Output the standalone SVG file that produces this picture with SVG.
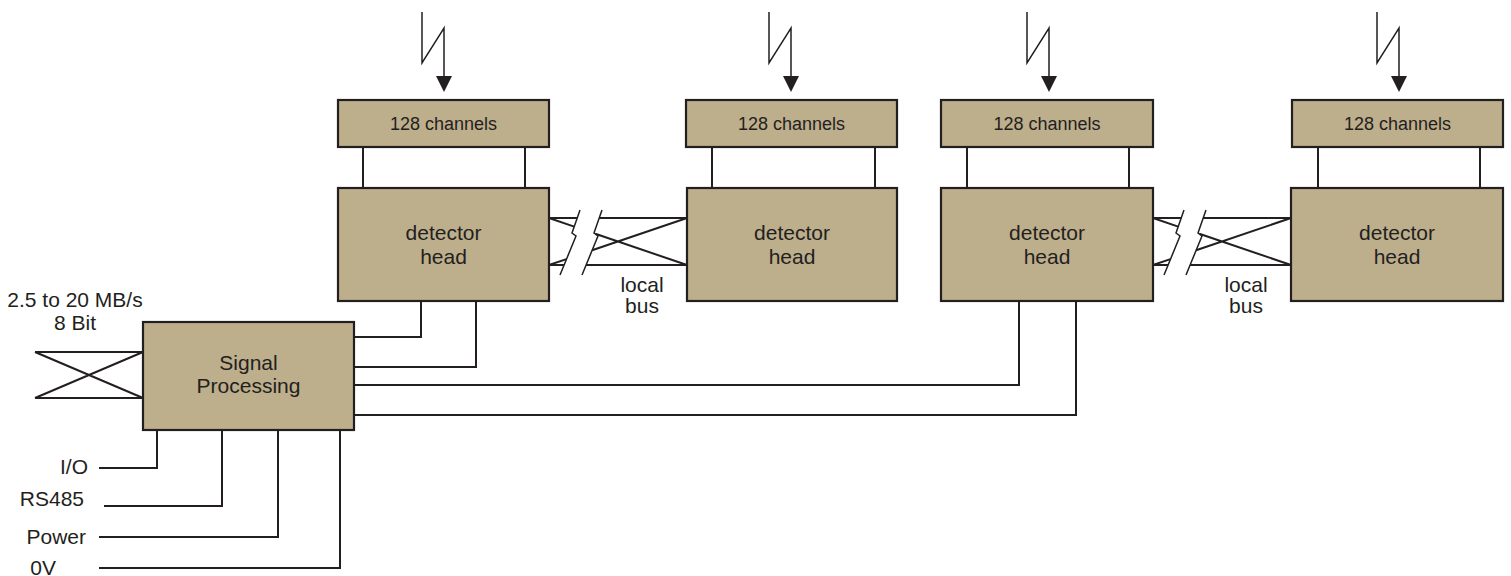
<svg xmlns="http://www.w3.org/2000/svg" xmlns:xlink="http://www.w3.org/1999/xlink" width="1511" height="576" viewBox="0 0 1511 576">
<style>
.box{fill:#bdae8c;stroke:#231f20;stroke-width:2.2}
.ln{fill:none;stroke:#231f20;stroke-width:2}
.thin{fill:none;stroke:#231f20;stroke-width:1.5}
.head{fill:#231f20;stroke:none}
text{font-family:"Liberation Sans",Arial,sans-serif;fill:#231f20;font-size:21px}
.c{text-anchor:middle}
.e{text-anchor:end}
.sm{font-size:18px}
</style>
<defs>
<g id="bolt"><path class="thin" d="M0,0 V51 L22,16 V66"/><polygon class="head" points="14,64 30,64 22,80"/></g>
<g id="bus">
<path class="ln" d="M549,218 H577.2 M599.2,218 H687 M549,265 H564.1 M586.1,265 H687 M549,218 L574.2,226.6 M595.3,233.8 L687,265 M549,265 L566.4,259.1 M592.1,250.3 L687,218"/>
<path class="thin" d="M580,210 L572,233 L576,236 L560,275 M602,210 L594,233 L598,236 L582,275"/>
</g>
</defs>
<rect width="1511" height="576" fill="#fff"/>
<g id="connectors">
<use xlink:href="#bolt" href="#bolt" transform="translate(422,12)"/>
<use xlink:href="#bolt" href="#bolt" transform="translate(769,12)"/>
<use xlink:href="#bolt" href="#bolt" transform="translate(1027,12)"/>
<use xlink:href="#bolt" href="#bolt" transform="translate(1377,12)"/>
<path class="ln" d="M363,147 V188 M525,147 V188 M712,147 V188 M875,147 V188 M967,147 V188 M1129,147 V188 M1318,147 V188 M1480,147 V188"/>
<use xlink:href="#bus" href="#bus"/>
<use xlink:href="#bus" href="#bus" transform="translate(604,0)"/>
<path class="ln" d="M354,337 H421 V301 M354,367 H476 V301 M354,385 H1019 V301 M354,415 H1076 V301"/>
<path class="ln" d="M35,352 H143 M35,398 H143 M35,352 L143,398 M35,398 L143,352"/>
<path class="ln" d="M99,468 H157 V430 M104,506 H222 V430 M99,537 H278 V430 M99,568 H340 V430"/>
</g>
<g id="c1"><rect class="box" x="338" y="100" width="211" height="47"/><text class="c sm" x="443.5" y="130">128 channels</text></g>
<g id="c2"><rect class="box" x="686" y="100" width="211" height="47"/><text class="c sm" x="791.5" y="130">128 channels</text></g>
<g id="c3"><rect class="box" x="941" y="100" width="212" height="47"/><text class="c sm" x="1047" y="130">128 channels</text></g>
<g id="c4"><rect class="box" x="1292" y="100" width="211" height="47"/><text class="c sm" x="1397.5" y="130">128 channels</text></g>
<g id="d1"><rect class="box" x="338" y="188" width="211" height="113"/><text class="c" x="443.5" y="240">detector</text><text class="c" x="443.5" y="264">head</text></g>
<g id="d2"><rect class="box" x="687" y="188" width="210" height="113"/><text class="c" x="792" y="240">detector</text><text class="c" x="792" y="264">head</text></g>
<g id="d3"><rect class="box" x="941" y="188" width="212" height="113"/><text class="c" x="1047" y="240">detector</text><text class="c" x="1047" y="264">head</text></g>
<g id="d4"><rect class="box" x="1291" y="188" width="212" height="113"/><text class="c" x="1397" y="240">detector</text><text class="c" x="1397" y="264">head</text></g>
<g id="sp"><rect class="box" x="143" y="322" width="211" height="108"/><text class="c" x="248.5" y="370">Signal</text><text class="c" x="248.5" y="393">Processing</text></g>
<g id="labels">
<text class="c" x="642" y="292">local</text><text class="c" x="642" y="313">bus</text>
<text class="c" x="1246" y="292">local</text><text class="c" x="1246" y="313">bus</text>
<text class="c" x="75" y="307">2.5 to 20 MB/s</text>
<text class="c" x="75" y="330">8 Bit</text>
<text class="e" x="88" y="474">I/O</text>
<text class="e" x="84" y="506">RS485</text>
<text class="e" x="86" y="544">Power</text>
<text class="e" x="56" y="575">0V</text>
</g>
</svg>
